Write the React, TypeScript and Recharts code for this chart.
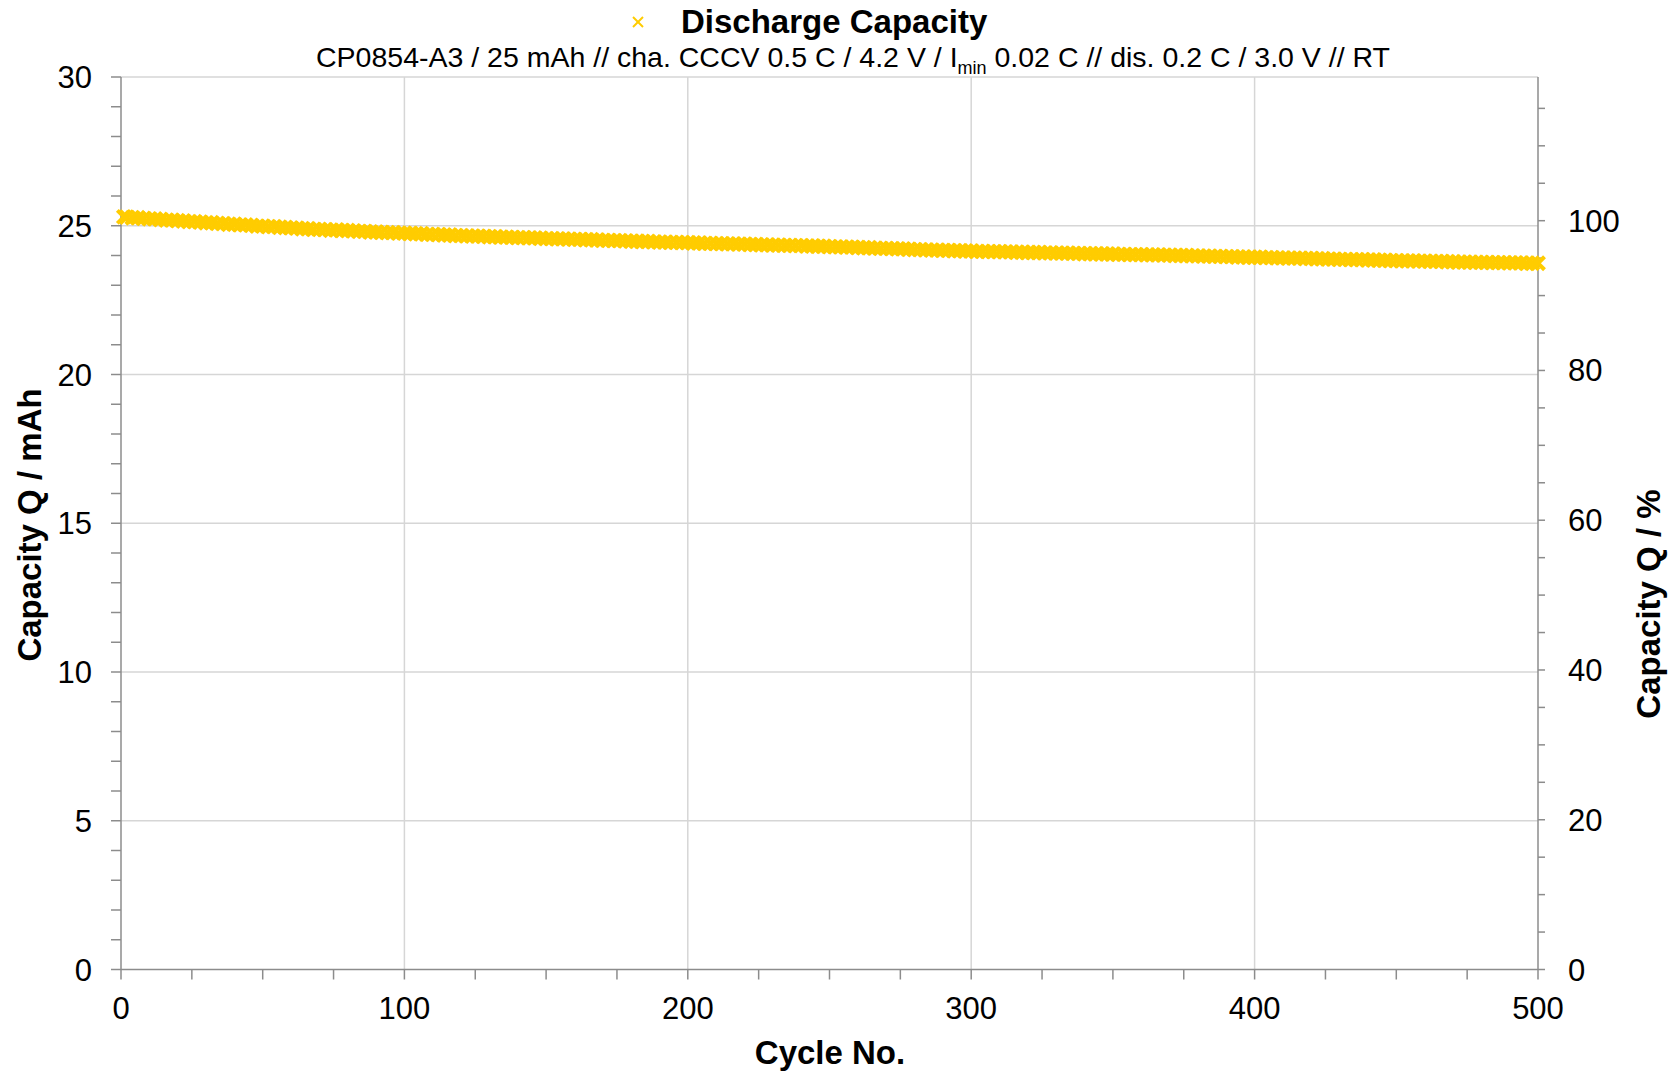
import { ReferenceLine, Scatter, ScatterChart, XAxis, YAxis } from 'recharts';

// cycle numbers: first cycle, then every second cycle up to 500
const cycles = [1, ...Array.from({ length: 250 }, (_, i) => 2 * (i + 1))];

// discharge capacity in mAh
const capacity = [
  25.3,
  25.29, 25.27, 25.27, 25.25, 25.23, 25.23, 25.21, 25.19, 25.19, 25.17,
  25.16, 25.14, 25.14, 25.12, 25.1, 25.1, 25.08, 25.07, 25.05, 25.05,
  25.03, 25.03, 25.01, 24.99, 24.99, 24.97, 24.97, 24.95, 24.94, 24.93,
  24.92, 24.9, 24.9, 24.88, 24.88, 24.87, 24.85, 24.86, 24.84, 24.84,
  24.83, 24.81, 24.81, 24.79, 24.79, 24.78, 24.77, 24.77, 24.75, 24.75,
  24.74, 24.73, 24.73, 24.71, 24.71, 24.7, 24.69, 24.69, 24.67, 24.67,
  24.66, 24.65, 24.65, 24.64, 24.63, 24.63, 24.62, 24.62, 24.61, 24.6,
  24.6, 24.59, 24.59, 24.58, 24.57, 24.57, 24.56, 24.56, 24.55, 24.54,
  24.54, 24.53, 24.53, 24.52, 24.51, 24.51, 24.5, 24.5, 24.49, 24.48,
  24.48, 24.47, 24.47, 24.46, 24.45, 24.45, 24.44, 24.44, 24.43, 24.43,
  24.42, 24.42, 24.41, 24.41, 24.4, 24.4, 24.39, 24.39, 24.38, 24.38,
  24.37, 24.37, 24.36, 24.36, 24.35, 24.35, 24.34, 24.34, 24.33, 24.33,
  24.32, 24.32, 24.31, 24.31, 24.3, 24.29, 24.29, 24.28, 24.28, 24.27,
  24.26, 24.26, 24.25, 24.24, 24.24, 24.23, 24.22, 24.22, 24.21, 24.2,
  24.2, 24.19, 24.18, 24.18, 24.17, 24.17, 24.16, 24.16, 24.15, 24.15,
  24.14, 24.14, 24.13, 24.13, 24.13, 24.12, 24.12, 24.11, 24.11, 24.1,
  24.1, 24.1, 24.09, 24.09, 24.08, 24.08, 24.08, 24.07, 24.07, 24.06,
  24.06, 24.06, 24.05, 24.05, 24.05, 24.04, 24.04, 24.03, 24.03, 24.03,
  24.02, 24.02, 24.02, 24.01, 24.01, 24.0, 24.0, 24.0, 23.99, 23.99,
  23.98, 23.98, 23.97, 23.97, 23.96, 23.96, 23.95, 23.95, 23.94, 23.94,
  23.94, 23.93, 23.93, 23.92, 23.92, 23.91, 23.91, 23.91, 23.9, 23.9,
  23.89, 23.89, 23.88, 23.88, 23.87, 23.87, 23.86, 23.86, 23.86, 23.85,
  23.85, 23.84, 23.84, 23.83, 23.83, 23.82, 23.82, 23.82, 23.81, 23.81,
  23.8, 23.8, 23.8, 23.79, 23.79, 23.78, 23.78, 23.78, 23.77, 23.77,
  23.77, 23.76, 23.76, 23.76, 23.75, 23.75, 23.75, 23.74, 23.74, 23.74,
];

const xTicks = [
  0, 25, 50, 75, 100, 125, 150, 175, 200, 225, 250, 275, 300, 325, 350, 375, 400, 425, 450,
  475, 500,
];
const xMajor = [0, 100, 200, 300, 400, 500];
const mahTicks = [
  0, 1, 2, 3, 4, 5, 6, 7, 8, 9, 10, 11, 12, 13, 14, 15, 16, 17, 18, 19, 20, 21, 22, 23, 24,
  25, 26, 27, 28, 29, 30,
];
const mahMajor = [0, 5, 10, 15, 20, 25, 30];
const pctTicks = [
  0, 5, 10, 15, 20, 25, 30, 35, 40, 45, 50, 55, 60, 65, 70, 75, 80, 85, 90, 95, 100, 105, 110,
  115,
];
const pctMajor = [0, 20, 40, 60, 80, 100];
// 100 % corresponds to roughly 25.17 mAh
const nominal = 25.17;

const data = cycles.map((c, i) => ({ cycle: c, q: capacity[i], pct: (capacity[i] / nominal) * 100 }));

const FONT = '"Liberation Sans", Arial, sans-serif';
const YELLOW = '#FFCC00';
const AXIS = '#8c8c8c';
const GRID = '#d6d6d6';

const XMark = (props: any) => {
  const { cx, cy } = props;
  if (cx == null || cy == null) return <g />;
  const s = 6.5;
  return (
    <g stroke={YELLOW} strokeWidth={4}>
      <line x1={cx - s} y1={cy - s} x2={cx + s} y2={cy + s} />
      <line x1={cx - s} y1={cy + s} x2={cx + s} y2={cy - s} />
    </g>
  );
};

const NoMark = () => <g />;

const XTick = ({ x, y, payload }: any) =>
  xMajor.includes(payload.value) ? (
    <text x={x} y={y} dy={39} textAnchor="middle" fontSize={31} fontFamily={FONT} fill="#000">
      {payload.value}
    </text>
  ) : (
    <g />
  );

const LeftTick = ({ x, y, payload }: any) =>
  mahMajor.includes(payload.value) ? (
    <text x={x} y={y} dy={11} textAnchor="end" fontSize={31} fontFamily={FONT} fill="#000">
      {payload.value}
    </text>
  ) : (
    <g />
  );

const RightTick = ({ x, y, payload }: any) =>
  pctMajor.includes(payload.value) ? (
    <text x={x} y={y} dy={11} textAnchor="start" fontSize={31} fontFamily={FONT} fill="#000">
      {payload.value}
    </text>
  ) : (
    <g />
  );

const labelStyle: any = {
  position: 'absolute',
  fontFamily: FONT,
  fontWeight: 'bold',
  fontSize: 33,
  whiteSpace: 'nowrap',
  color: '#000',
};

export default function App() {
  return (
    <div style={{ position: 'absolute', left: 0, top: 0, width: 1676, height: 1071, background: '#fff' }}>
      <ScatterChart width={1676} height={1071} margin={{ top: 77, right: 0, bottom: 0, left: 0 }}>
        <XAxis
          type="number"
          dataKey="cycle"
          domain={[0, 500]}
          ticks={xTicks}
          interval={0}
          height={101.5}
          tickSize={10}
          tickMargin={0}
          stroke={AXIS}
          strokeWidth={1.5}
          tick={<XTick />}
        />
        <YAxis
          yAxisId="mah"
          type="number"
          dataKey="q"
          domain={[0, 30]}
          ticks={mahTicks}
          interval={0}
          width={121}
          tickSize={10}
          tickMargin={19}
          stroke={AXIS}
          strokeWidth={1.5}
          tick={<LeftTick />}
        />
        <YAxis
          yAxisId="pct"
          orientation="right"
          type="number"
          dataKey="pct"
          domain={[0, (30 / nominal) * 100]}
          allowDataOverflow
          ticks={pctTicks}
          interval={0}
          width={138}
          tickSize={7}
          tickMargin={23}
          stroke={AXIS}
          strokeWidth={1.5}
          tick={<RightTick />}
        />
        {mahMajor.slice(1).map((v) => (
          <ReferenceLine key={'h' + v} yAxisId="mah" y={v} stroke={GRID} strokeWidth={1.5} />
        ))}
        {xMajor.slice(1, -1).map((v) => (
          <ReferenceLine key={'v' + v} yAxisId="mah" x={v} stroke={GRID} strokeWidth={1.5} />
        ))}
        {/* percent view of the same points, only to drive the right axis */}
        <Scatter yAxisId="pct" data={data} shape={<NoMark />} isAnimationActive={false} />
        <Scatter yAxisId="mah" data={data} shape={<XMark />} isAnimationActive={false} />
      </ScatterChart>

      {/* legend / title */}
      <svg style={{ position: 'absolute', left: 631, top: 15 }} width={14} height={14}>
        <line x1={2} y1={2} x2={12} y2={12} stroke={YELLOW} strokeWidth={2} />
        <line x1={2} y1={12} x2={12} y2={2} stroke={YELLOW} strokeWidth={2} />
      </svg>
      <div style={{ ...labelStyle, left: 681, top: 3, lineHeight: '38px', fontSize: 33 }}>
        Discharge Capacity
      </div>
      <div
        style={{
          position: 'absolute',
          left: 853,
          top: 40,
          transform: 'translateX(-50%)',
          fontFamily: FONT,
          fontSize: 28.5,
          lineHeight: '34px',
          whiteSpace: 'nowrap',
          color: '#000',
        }}
      >
        CP0854-A3 / 25 mAh // cha. CCCV 0.5 C / 4.2 V / I<sub style={{ fontSize: 18 }}>min</sub> 0.02 C // dis. 0.2 C / 3.0 V // RT
      </div>

      {/* axis titles */}
      <div style={{ ...labelStyle, left: 30, top: 525, transform: 'translate(-50%, -50%) rotate(-90deg)' }}>
        Capacity Q / mAh
      </div>
      <div style={{ ...labelStyle, left: 1649, top: 604, transform: 'translate(-50%, -50%) rotate(-90deg)' }}>
        Capacity Q / %
      </div>
      <div style={{ ...labelStyle, left: 830, top: 1053, transform: 'translate(-50%, -50%)' }}>
        Cycle No.
      </div>
    </div>
  );
}
